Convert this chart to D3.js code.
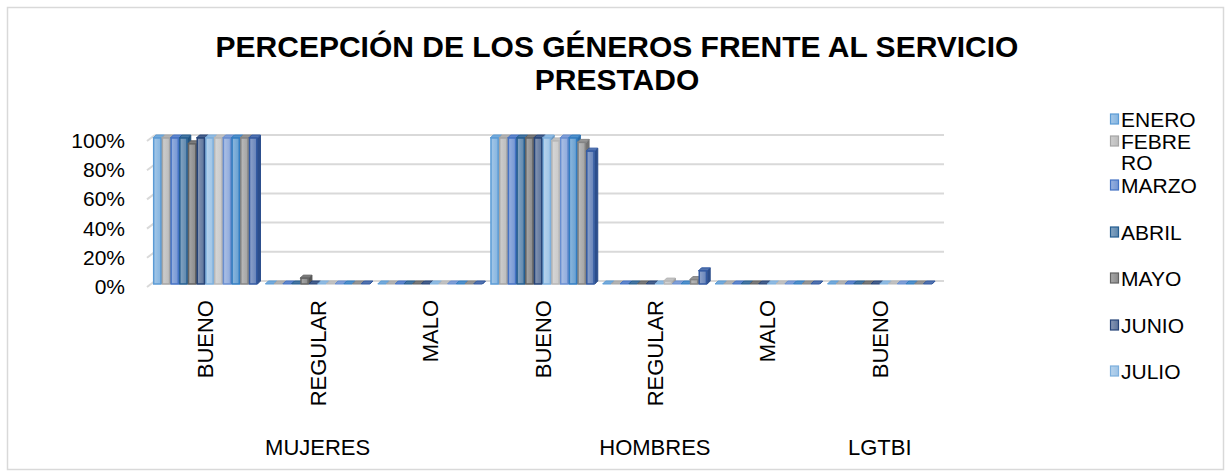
<!DOCTYPE html>
<html>
<head>
<meta charset="utf-8">
<script src="https://cdn.jsdelivr.net/npm/d3@7"></script>
<style>
  body { margin: 0; background: #fff; }
  text { font-family: "Liberation Sans", Arial, sans-serif; }
</style>
</head>
<body>
<div id="chart"></div>
<script>
// categories (two level axis)
const categories = ["BUENO", "REGULAR", "MALO", "BUENO", "REGULAR", "MALO", "BUENO"];
const groups = ["MUJERES", "HOMBRES", "LGTBI"];
const groupOf = [0, 0, 0, 1, 1, 1, 2];
const months = ["ENERO", "FEBRERO", "MARZO", "ABRIL", "MAYO", "JUNIO", "JULIO",
                "AGOSTO", "SEPTIEMBRE", "OCTUBRE", "NOVIEMBRE", "DICIEMBRE"];
const yTicks = [0, 0.2, 0.4, 0.6, 0.8, 1];

// share per category, one array per month
const enero      = [1.00, 0, 0, 1.00, 0, 0, 0];
const febrero    = [1.00, 0, 0, 1.00, 0, 0, 0];
const marzo      = [1.00, 0, 0, 1.00, 0, 0, 0];
const abril      = [1.00, 0, 0, 1.00, 0, 0, 0];
const mayo       = [0.96, 0.04, 0, 1.00, 0, 0, 0];
const junio      = [1.00, 0, 0, 1.00, 0, 0, 0];
const julio      = [1.00, 0, 0, 1.00, 0, 0, 0];
const agosto     = [1.00, 0, 0, 0.98, 0.02, 0, 0];
const septiembre = [1.00, 0, 0, 1.00, 0, 0, 0];
const octubre    = [1.00, 0, 0, 1.00, 0, 0, 0];
const noviembre  = [1.00, 0, 0, 0.97, 0.03, 0, 0];
const diciembre  = [1.00, 0, 0, 0.91, 0.09, 0, 0];
const series = [enero, febrero, marzo, abril, mayo, junio, julio,
                agosto, septiembre, octubre, noviembre, diciembre];

// office style colours (outline) for each month
const colors = ["#5B9BD5", "#A5A5A5", "#4472C4", "#255E91", "#636363", "#264478",
                "#7CAFDD", "#B7B7B7", "#698ED0", "#327DC2", "#848484", "#335AA1"];

const width = 1227, height = 474;
const svg = d3.select("#chart").append("svg")
    .attr("width", width)
    .attr("height", height);

// gradients
const defs = svg.append("defs");
colors.forEach((c, i) => {
    const g = defs.append("linearGradient").attr("id", "grad" + i)
        .attr("x1", "0").attr("y1", "0").attr("x2", "1").attr("y2", "0");
    g.append("stop").attr("offset", "0%").attr("stop-color", d3.interpolateRgb(c, "#fff")(0.45));
    g.append("stop").attr("offset", "100%").attr("stop-color", d3.interpolateRgb(c, "#fff")(0.25));
});

// outer frame
svg.append("rect")
    .attr("x", 7.5).attr("y", 7.5)
    .attr("width", 1216).attr("height", 462)
    .attr("fill", "none").attr("stroke", "#d9d9d9").attr("stroke-width", 1.5);

// title
const title = svg.append("text")
    .attr("text-anchor", "middle")
    .attr("font-size", 30)
    .attr("font-weight", "bold");
title.append("tspan").attr("x", 617).attr("y", 57).text("PERCEPCIÓN DE LOS GÉNEROS FRENTE AL SERVICIO");
title.append("tspan").attr("x", 617).attr("y", 90).text("PRESTADO");

// scales
const x = d3.scaleBand()
    .domain(d3.range(categories.length))
    .range([149, 936])
    .paddingInner(0.07)
    .paddingOuter(0.035);
const xs = d3.scaleBand()
    .domain(d3.range(months.length))
    .range([0, x.bandwidth()]);
const y = d3.scaleLinear().domain([0, 1]).range([284, 138]);

// 3D depth offsets
const wallDy = -3;               // back wall relative to bar front
const barDx = 3, barDy = -3;     // bar depth
const sideDx = 8, sideDy = -6;   // side wall depth

// gridlines on back wall + side wall stubs
const grid = svg.append("g");
yTicks.forEach(t => {
    const yb = y(t) + wallDy;
    grid.append("line")
        .attr("x1", 147 + sideDx).attr("x2", 944)
        .attr("y1", yb).attr("y2", yb)
        .attr("stroke", "#d9d9d9").attr("stroke-width", 2);
    grid.append("line")
        .attr("x1", 147).attr("x2", 147 + sideDx)
        .attr("y1", yb - sideDy).attr("y2", yb)
        .attr("stroke", "#d9d9d9").attr("stroke-width", 2);
});

// y tick labels
svg.append("g").selectAll("text")
    .data(yTicks)
    .join("text")
    .attr("x", 125)
    .attr("y", d => y(d) + wallDy - sideDy + 7)
    .attr("text-anchor", "end")
    .attr("font-size", 21)
    .attr("fill", "#000")
    .text(d3.format(".0%"));

// bars
const bars = [];
series.forEach((vals, s) => {
    vals.forEach((v, c) => bars.push({ s: s, c: c, v: v }));
});
const barG = svg.append("g").selectAll("g")
    .data(bars)
    .join("g");

barG.each(function (d) {
    const g = d3.select(this);
    const x0 = x(d.c) + xs(d.s);
    const w = xs.bandwidth();
    const yt = y(d.v), yb = y(0);
    const col = colors[d.s];
    const dark = d3.color(col).darker(0.4);
    // side face
    g.append("path")
        .attr("d", `M${x0 + w},${yt} L${x0 + w + barDx},${yt + barDy} L${x0 + w + barDx},${yb + barDy} L${x0 + w},${yb} Z`)
        .attr("fill", dark).attr("stroke", dark).attr("stroke-width", 1);
    // top face
    g.append("path")
        .attr("d", `M${x0},${yt} L${x0 + barDx},${yt + barDy} L${x0 + w + barDx},${yt + barDy} L${x0 + w},${yt} Z`)
        .attr("fill", d3.interpolateRgb(col, "#fff")(0.15)).attr("stroke", col).attr("stroke-width", 1);
    // front
    if (d.v > 0) {
        g.append("rect")
            .attr("x", x0 + 0.75).attr("y", yt)
            .attr("width", w - 1.5).attr("height", yb - yt)
            .attr("fill", `url(#grad${d.s})`)
            .attr("stroke", col).attr("stroke-width", 1.5);
    }
});

// category labels (rotated)
svg.append("g").selectAll("text")
    .data(categories)
    .join("text")
    .attr("transform", (d, i) => `translate(${x(i) + x.bandwidth() / 2 + 8},300) rotate(-90)`)
    .attr("text-anchor", "end")
    .attr("font-size", 22)
    .text(d => d);

// group labels, centred under each group
svg.append("g").selectAll("text")
    .data(groups)
    .join("text")
    .attr("x", (g, gi) => {
        const idx = d3.range(categories.length).filter(i => groupOf[i] === gi);
        return (x(idx[0]) + x(idx[idx.length - 1]) + x.bandwidth()) / 2;
    })
    .attr("y", 455)
    .attr("text-anchor", "middle")
    .attr("font-size", 22)
    .text(d => d);

// legend (only the first seven months fit in the box)
const legendY = [119, 141, 185, 232, 278, 325, 371];
const legend = svg.append("g").selectAll("g")
    .data(months.slice(0, 7))
    .join("g")
    .attr("transform", (d, i) => `translate(1110,${legendY[i]})`);
legend.append("rect")
    .attr("x", 0.5).attr("y", -5)
    .attr("width", 8).attr("height", 10)
    .attr("fill", (d, i) => `url(#grad${i})`)
    .attr("stroke", (d, i) => colors[i]).attr("stroke-width", 1.2);
legend.append("text")
    .attr("x", 11).attr("y", 8)
    .attr("font-size", 21)
    .each(function (d) {
        const t = d3.select(this);
        if (d === "FEBRERO") {
            t.append("tspan").attr("x", 11).text("FEBRE");
            t.append("tspan").attr("x", 11).attr("dy", 21).text("RO");
        } else {
            t.text(d);
        }
    });
</script>
</body>
</html>
